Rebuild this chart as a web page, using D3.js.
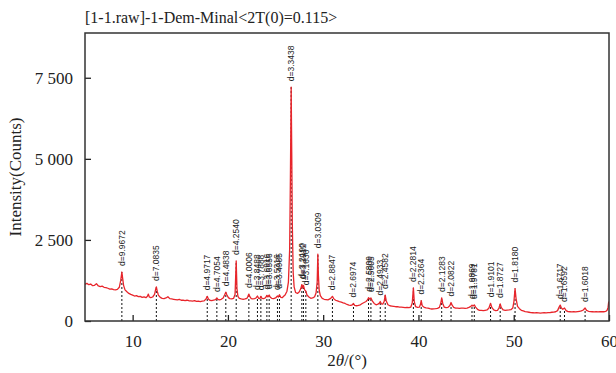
<!DOCTYPE html>
<html>
<head>
<meta charset="utf-8">
<script src="https://cdn.jsdelivr.net/npm/d3@7"></script>
<style>
  html, body { margin: 0; padding: 0; background: #fff; }
  svg { display: block; }
</style>
</head>
<body>
<div id="chart"></div>
<script>
// XRD scan: [2theta (deg), intensity (counts)]
const scan = [
  [5.0,1130],[5.2,1160],[5.4,1120],[5.6,1140],[5.8,1090],[6.0,1100],[6.2,1150],[6.4,1080],[6.6,1060],[6.8,1075],
  [7.0,1040],[7.2,1030],[7.4,1010],[7.6,985],[7.8,990],[8.0,965],[8.2,960],[8.4,975],[8.6,1040],[8.75,1250],
  [8.87,1510],[8.95,1320],[9.05,1100],[9.2,960],[9.4,900],[9.6,850],[9.8,820],[10.0,800],[10.2,770],[10.4,780],
  [10.6,750],[10.8,760],[11.0,730],[11.2,745],[11.4,720],[11.55,760],[11.65,830],[11.75,740],[11.9,720],[12.1,740],
  [12.3,820],[12.42,980],[12.49,1050],[12.58,920],[12.7,800],[12.9,730],[13.1,700],[13.3,690],[13.5,710],[13.7,750],
  [13.9,690],[14.1,680],[14.3,670],[14.5,660],[14.7,650],[14.9,665],[15.1,640],[15.3,645],[15.5,630],[15.7,640],
  [15.9,625],[16.1,620],[16.3,615],[16.5,630],[16.7,605],[16.9,610],[17.1,600],[17.3,615],[17.5,620],[17.7,680],
  [17.83,760],[17.95,680],[18.1,640],[18.3,630],[18.5,645],[18.7,660],[18.84,710],[18.95,665],[19.1,650],[19.3,670],
  [19.5,710],[19.65,800],[19.78,890],[19.9,800],[20.05,720],[20.2,690],[20.4,680],[20.6,700],[20.75,820],[20.87,1850],
  [20.95,1000],[21.05,760],[21.2,700],[21.4,680],[21.6,665],[21.8,680],[22.0,700],[22.1,760],[22.2,830],[22.3,750],
  [22.45,690],[22.6,680],[22.8,690],[22.95,710],[23.1,770],[23.22,700],[23.35,690],[23.46,760],[23.58,700],[23.75,690],
  [23.9,710],[24.0,740],[24.09,790],[24.2,740],[24.33,800],[24.45,730],[24.6,700],[24.8,690],[25.0,710],[25.2,770],
  [25.3,740],[25.41,810],[25.55,730],[25.7,720],[25.85,760],[26.0,800],[26.2,920],[26.35,1200],[26.48,2200],[26.56,4450],
  [26.64,7210],[26.7,5200],[26.76,3000],[26.85,1500],[26.95,1050],[27.1,880],[27.3,850],[27.5,900],[27.65,1000],[27.76,1120],
  [27.85,1020],[27.93,1100],[28.05,960],[28.18,920],[28.3,800],[28.5,740],[28.7,700],[28.9,710],[29.1,750],[29.25,860],
  [29.37,1200],[29.44,2060],[29.5,1400],[29.58,950],[29.7,780],[29.9,700],[30.1,670],[30.3,660],[30.5,650],[30.7,680],
  [30.85,720],[30.97,760],[31.1,690],[31.3,640],[31.5,620],[31.7,600],[31.9,585],[32.1,560],[32.3,540],[32.5,510],
  [32.7,490],[32.9,480],[33.05,500],[33.18,540],[33.3,480],[33.5,470],[33.7,480],[33.9,500],[34.1,540],[34.3,570],
  [34.5,600],[34.65,650],[34.76,720],[34.88,680],[35.01,710],[35.15,620],[35.35,540],[35.55,500],[35.75,520],[35.9,550],
  [35.99,600],[36.1,530],[36.25,520],[36.4,600],[36.51,800],[36.62,620],[36.8,500],[37.0,470],[37.2,460],[37.4,450],
  [37.6,440],[37.8,445],[38.0,430],[38.2,425],[38.4,420],[38.6,410],[38.8,420],[39.0,410],[39.2,430],[39.35,560],
  [39.47,1020],[39.56,600],[39.7,440],[39.9,420],[40.1,430],[40.2,500],[40.29,630],[40.4,470],[40.6,420],[40.8,405],
  [41.0,400],[41.2,380],[41.4,370],[41.6,375],[41.8,380],[42.0,390],[42.2,420],[42.35,560],[42.44,710],[42.55,540],
  [42.7,430],[42.9,410],[43.1,420],[43.3,480],[43.42,570],[43.55,480],[43.7,420],[43.9,400],[44.1,395],[44.3,390],
  [44.5,400],[44.7,395],[44.9,390],[45.1,400],[45.3,420],[45.5,450],[45.62,490],[45.72,460],[45.86,495],[46.0,430],
  [46.2,360],[46.4,330],[46.6,325],[46.8,320],[47.0,330],[47.2,340],[47.4,400],[47.57,545],[47.7,420],[47.9,340],
  [48.1,320],[48.3,330],[48.45,400],[48.58,525],[48.7,410],[48.9,340],[49.1,330],[49.3,335],[49.5,340],[49.7,350],
  [49.9,400],[50.02,600],[50.14,1000],[50.24,700],[50.4,450],[50.6,380],[50.8,330],[51.0,310],[51.2,290],[51.4,280],
  [51.6,270],[51.8,260],[52.0,255],[52.2,250],[52.4,255],[52.6,250],[52.8,245],[53.0,250],[53.2,255],[53.4,250],
  [53.6,260],[53.8,260],[54.0,270],[54.2,275],[54.4,285],[54.6,320],[54.75,420],[54.88,490],[55.0,400],[55.15,360],
  [55.33,400],[55.5,320],[55.7,290],[55.9,285],[56.1,280],[56.3,285],[56.5,280],[56.7,290],[56.9,300],[57.1,310],
  [57.3,340],[57.49,400],[57.65,330],[57.85,300],[58.05,290],[58.25,285],[58.45,280],[58.65,285],[58.85,280],[59.05,285],
  [59.25,290],[59.45,285],[59.65,295],[59.8,330],[59.9,420],[59.97,600]
];

// labelled reflections
const peakAngle = [8.87, 12.49, 17.83, 18.84, 19.78, 20.87, 22.20, 23.10, 23.46, 24.09, 24.33, 25.20, 25.41,
  26.64, 27.76, 27.93, 28.18, 29.44, 30.97, 33.18, 34.76, 35.01, 35.99, 36.51, 39.47, 40.29, 42.44, 43.42,
  45.62, 45.86, 47.57, 48.58, 50.14, 54.88, 55.33, 57.49];
const peakTop = [1510, 1050, 760, 710, 890, 1850, 830, 770, 760, 790, 800, 770, 810,
  7210, 1120, 1100, 920, 2060, 760, 540, 720, 710, 600, 800, 1020, 630, 710, 570,
  490, 495, 545, 525, 1000, 490, 400, 400];
const peakD = ["9.9672", "7.0835", "4.9717", "4.7054", "4.4838", "4.2540", "4.0006", "3.8488", "3.7888", "3.6916",
  "3.6556", "3.5316", "3.4985", "3.3438", "3.2190", "3.1912", "3.1636", "3.0309", "2.8847", "2.6974", "2.5809",
  "2.5605", "2.4933", "2.4582", "2.2814", "2.2364", "2.1283", "2.0822", "1.9869", "1.9781", "1.9101", "1.8727",
  "1.8180", "1.6717", "1.6592", "1.6018"];

const xTicks = [10, 20, 30, 40, 50, 60];
const yTicks = [0, 2500, 5000, 7500];
const title = "[1-1.raw]-1-Dem-Minal<2T(0)=0.115>";

const W = 616, H = 373;
const m = { left: 85, right: 609, top: 33, bottom: 321 };

const svg = d3.select("#chart").append("svg")
  .attr("width", W)
  .attr("height", H);

const x = d3.scaleLinear().domain([5, 60]).range([m.left, m.right]);
const y = d3.scaleLinear().domain([0, 8880]).range([m.bottom, m.top]);

svg.append("clipPath").attr("id", "plot")
  .append("rect")
  .attr("x", m.left).attr("y", m.top)
  .attr("width", m.right - m.left).attr("height", m.bottom - m.top);

// dashed markers under each labelled peak
svg.append("g")
  .selectAll("line")
  .data(peakAngle)
  .enter().append("line")
  .attr("x1", d => x(d)).attr("x2", d => x(d))
  .attr("y1", y(0))
  .attr("y2", (d, i) => y(peakTop[i]))
  .attr("stroke", "#111")
  .attr("stroke-width", 1)
  .attr("stroke-dasharray", "2,2");

// the scan
const line = d3.line()
  .x(d => x(d[0]))
  .y(d => y(d[1]));

svg.append("path")
  .datum(scan)
  .attr("clip-path", "url(#plot)")
  .attr("d", line)
  .attr("fill", "none")
  .attr("stroke", "#e8252b")
  .attr("stroke-width", 1.3)
  .attr("stroke-linejoin", "round");

// d-spacing labels
svg.append("g")
  .selectAll("text")
  .data(peakAngle)
  .enter().append("text")
  .attr("transform", (d, i) => `translate(${x(d)},${y(peakTop[i]) - 6}) rotate(-90)`)
  .attr("dy", "0.35em")
  .attr("font-family", "'Liberation Sans Narrow', 'Arial Narrow', 'Liberation Sans', sans-serif")
  .attr("font-size", 8.5)
  .attr("fill", "#222")
  .text((d, i) => "d=" + peakD[i]);

// axes (ticks point inwards)
const serif = "'Liberation Serif', 'Times New Roman', serif";

const xAxis = svg.append("g")
  .attr("transform", `translate(0,${m.bottom})`)
  .call(d3.axisBottom(x).tickValues(xTicks).tickSizeInner(-6).tickSizeOuter(0).tickPadding(14));
xAxis.select(".domain").remove();

const yAxis = svg.append("g")
  .attr("transform", `translate(${m.left},0)`)
  .call(d3.axisLeft(y).tickValues(yTicks).tickSizeInner(-6).tickSizeOuter(0).tickPadding(12)
    .tickFormat(d => d3.format(",")(d).replace(",", " ")));
yAxis.select(".domain").remove();

svg.selectAll(".tick line").attr("stroke", "#222").attr("stroke-width", 1.3);
svg.selectAll(".tick text")
  .attr("font-family", serif)
  .attr("font-size", 17)
  .attr("fill", "#222");

// frame
svg.append("rect")
  .attr("x", m.left).attr("y", m.top)
  .attr("width", m.right - m.left).attr("height", m.bottom - m.top)
  .attr("fill", "none")
  .attr("stroke", "#333")
  .attr("stroke-width", 1.5);

// title and axis titles
svg.append("text")
  .attr("x", m.left).attr("y", 23)
  .attr("font-family", serif)
  .attr("font-size", 16)
  .attr("fill", "#222")
  .text(title);

const xLabel = svg.append("text")
  .attr("x", (m.left + m.right) / 2).attr("y", 366)
  .attr("text-anchor", "middle")
  .attr("font-family", serif)
  .attr("font-size", 17)
  .attr("fill", "#222");
xLabel.append("tspan").text("2");
xLabel.append("tspan").attr("font-style", "italic").text("\u03b8");
xLabel.append("tspan").text("/(\u00b0)");

svg.append("text")
  .attr("transform", `translate(21,${(m.top + m.bottom) / 2}) rotate(-90)`)
  .attr("text-anchor", "middle")
  .attr("font-family", serif)
  .attr("font-size", 17)
  .attr("fill", "#222")
  .text("Intensity(Counts)");
</script>
</body>
</html>
